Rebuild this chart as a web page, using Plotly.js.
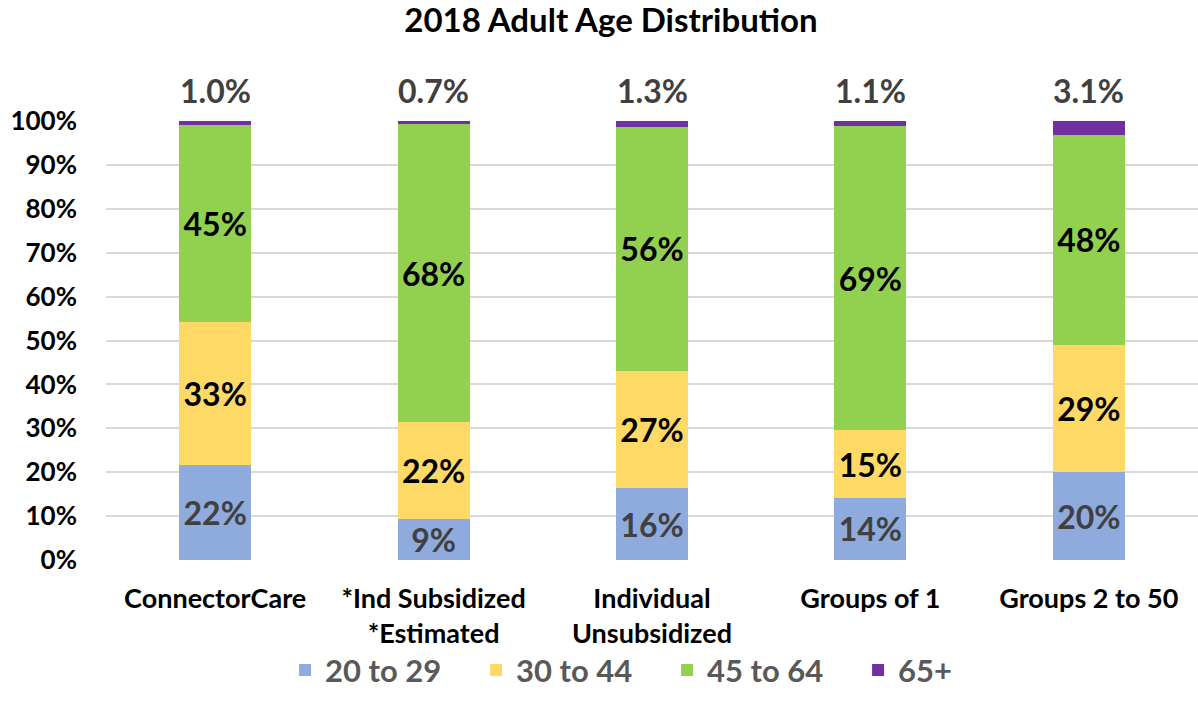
<!DOCTYPE html>
<html>
<head>
<meta charset="utf-8">
<script src="https://cdn.plot.ly/plotly-3.0.1.min.js"></script>
<style>html,body{margin:0;padding:0;background:#fff;}#chart{width:1198px;height:714px;}</style>
</head>
<body>
<div id="chart"></div>
<script>
const categories = ["ConnectorCare", "*Ind Subsidized<br>*Estimated", "Individual<br>Unsubsidized", "Groups of 1", "Groups 2 to 50"];
const seriesNames = ["20 to 29", "30 to 44", "45 to 64", "65+"];
const age20to29 = [21.6, 9.3, 16.4, 14.2, 20.0];
const age30to44 = [32.6, 22.1, 26.6, 15.3, 29.0];
const age45to64 = [44.8, 67.9, 55.7, 69.4, 47.9];
const age65plus = [1.0, 0.7, 1.3, 1.1, 3.1];
const yTickVals = [0,10,20,30,40,50,60,70,80,90,100];
const yTickText = ["0%","10%","20%","30%","40%","50%","60%","70%","80%","90%","100%"];

const FONT = "Lato, 'Open Sans', sans-serif";
const colors = ["#8FAADC", "#FFD966", "#92D050", "#7030A0"];
const textColors = ["#404040", "#000000", "#000000", "#404040"];
const allSeries = [age20to29, age30to44, age45to64, age65plus];

const traces = allSeries.map((vals, i) => ({
  type: "bar",
  name: seriesNames[i],
  x: categories,
  y: vals,
  marker: {color: colors[i], line: {width: 0}},
  texttemplate: i < 3 ? "%{y:.0f}%" : "",
  textposition: i < 3 ? "inside" : "none",
  insidetextanchor: "middle",
  textangle: 0,
  constraintext: "none",
  textfont: {family: FONT, size: 32, color: textColors[i], weight: "bold"},
  hoverinfo: "skip"
}));

const annotations = categories.map((c, j) => ({
  x: c, y: 100, xref: "x", yref: "y",
  text: age65plus[j].toFixed(1) + "%",
  showarrow: false, yanchor: "bottom", yshift: 9,
  font: {family: FONT, size: 32, color: "#404040", weight: "bold"}
}));

const layout = {
  width: 1198, height: 714,
  margin: {l: 106, r: 0, t: 121, b: 154},
  paper_bgcolor: "#fff", plot_bgcolor: "#fff",
  barmode: "stack",
  bargap: 0.67,
  title: {text: "2018 Adult Age Distribution", x: 0.51, xanchor: "center", y: 0.988, yanchor: "top",
          font: {family: FONT, size: 33, color: "#000", weight: "bold"}},
  xaxis: {
    type: "category", showgrid: false, zeroline: false, showline: false, ticks: "",
    tickfont: {family: FONT, size: 27, color: "#000", weight: "bold"},
    ticklabelstandoff: 20,
    automargin: false
  },
  yaxis: {
    range: [0, 100], tickmode: "array", tickvals: yTickVals, ticktext: yTickText,
    showgrid: true, gridcolor: "#D9D9D9", gridwidth: 2, zeroline: false, showline: false,
    tickfont: {family: FONT, size: 26, color: "#000", weight: "bold"},
    ticklabelstandoff: 28, automargin: false
  },
  showlegend: true,
  legend: {orientation: "h", x: 0.164, xanchor: "left", y: -0.19, yanchor: "top",
           bgcolor: "rgba(0,0,0,0)",
           font: {family: FONT, size: 31, color: "#595959", weight: "bold"},
           itemwidth: 30, entrywidth: 146, entrywidthmode: "pixels", traceorder: "normal"},
  annotations: annotations,
  font: {family: FONT}
};

Plotly.newPlot("chart", traces, layout, {displayModeBar: false, staticPlot: true});
</script>
</body>
</html>
